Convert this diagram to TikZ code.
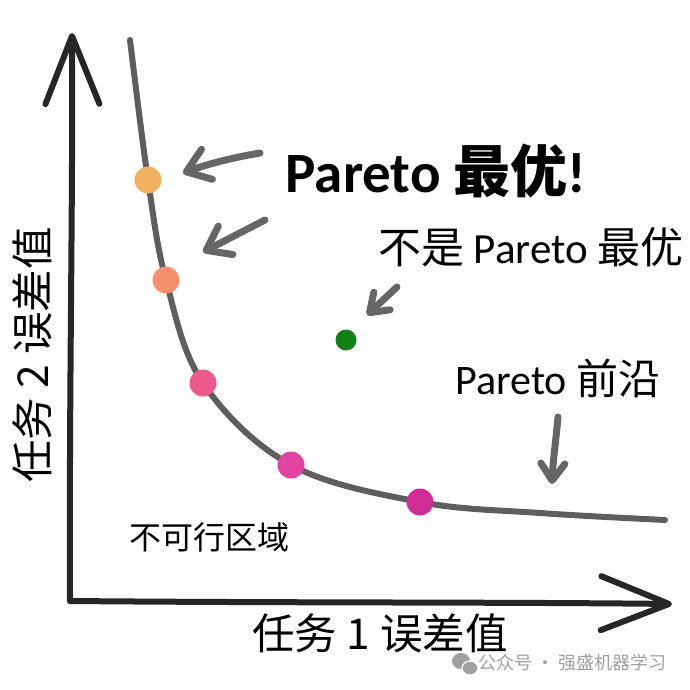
\documentclass[tikz,border=0pt]{standalone}
\usepackage{fontspec}
\setmainfont{Carlito}
\newfontfamily\cjk{Noto Sans CJK SC}
\usetikzlibrary{arrows.meta, positioning}
\definecolor{axisink}{HTML}{262626}
\definecolor{frontgray}{HTML}{5E5E5E}
\definecolor{arrowgray}{HTML}{666666}
\definecolor{optA}{HTML}{F0B060}
\definecolor{optB}{HTML}{F4906C}
\definecolor{optC}{HTML}{EC5A8C}
\definecolor{optD}{HTML}{E043A0}
\definecolor{optE}{HTML}{D02C98}
\definecolor{notopt}{HTML}{128012}
\definecolor{markgray}{HTML}{A0A0A0}

\begin{document}
\begin{tikzpicture}[x=1pt, y=-1pt,
    axis/.style={draw=axisink, line width=6pt, line cap=round,
      -{Straight Barb[length=68pt, width=54pt, round]}},
    pointer/.style={draw=arrowgray, line width=7pt, line cap=round,
      -{Straight Barb[length=22pt, width=32pt, round]}},
    smallpointer/.style={pointer, -{Straight Barb[length=17pt, width=24pt, round]}},
    dot/.style={circle, inner sep=0pt, minimum size=27pt},
    label/.style={inner sep=0pt, text=black}]
  \useasboundingbox (0,0) rectangle (690,690);

  % axes
  \coordinate (origin) at (70,601);
  \coordinate (ytop) at (72,33);
  \coordinate (xend) at (672,604);
  \draw[axis] (origin) .. controls (69,400) and (73,200) .. (ytop);
  \draw[axis] (origin) .. controls (300,603) and (500,602) .. (xend);

  % pareto front
  \coordinate (f0) at (130,40);
  \coordinate (p1) at (148,180);
  \coordinate (p2) at (166,280);
  \coordinate (p3) at (203,383);
  \coordinate (p4) at (291,465);
  \coordinate (p5) at (420,502);
  \coordinate (f1) at (665,520);
  \draw[frontgray, line width=6pt, line cap=round]
    plot[smooth, tension=0.6] coordinates {(f0) (p1) (p2) (p3) (p4) (p5) (540,513) (f1)};

  \node[dot, fill=optA] (d1) at (p1) {};
  \node[dot, fill=optB] (d2) at (p2) {};
  \node[dot, fill=optC] (d3) at (p3) {};
  \node[dot, fill=optD] (d4) at (p4) {};
  \node[dot, fill=optE] (d5) at (p5) {};
  \node[dot, fill=notopt, minimum size=21pt] (d6) at (346,340) {};

  % labels
  \node[label, font=\fontsize{57}{60}\selectfont\bfseries] (best) at (436,171)
    {Pareto {\cjk\bfseries 最优}!};
  \node[label, font=\fontsize{43}{46}\selectfont] (notbest) at (531,247)
    {{\cjk 不是} Pareto {\cjk 最优}};
  \node[label, font=\fontsize{42}{45}\selectfont] (front) at (558,378)
    {Pareto {\cjk 前沿}};
  \node[label, font=\cjk\fontsize{32}{34}\selectfont] (infeasible) at (209,537)
    {不可行区域};
  \node[label, font=\cjk\fontsize{42.5}{45}\selectfont] (xlab) at (380,633)
    {任务 1 误差值};
  \node[label, font=\cjk\fontsize{42.5}{45}\selectfont, rotate=90] (ylab) at (32,355)
    {任务 2 误差值};

  % pointers
  \coordinate (a1s) at (260,153);
  \coordinate (a1e) at (183,173);
  \coordinate (a2s) at (265,220);
  \coordinate (a2e) at (203,252);
  \coordinate (a3s) at (397,287);
  \coordinate (a3e) at (367,315);
  \coordinate (a4s) at (558,417);
  \coordinate (a4e) at (552,484);
  \draw[pointer] (a1s) .. controls (230,158) and (205,165) .. (a1e);
  \draw[pointer] (a2s) -- (a2e);
  \draw[smallpointer] (a3s) -- (a3e);
  \draw[smallpointer] (a4s) .. controls (556,440) and (553,460) .. (a4e);

  % watermark
  \fill[markgray] (461,661) ellipse (9pt and 8pt);
  \fill[markgray, draw=white, line width=1.2pt] (470,668) ellipse (8pt and 7pt);
  \node[label, text=markgray, font=\cjk\fontsize{18}{20}\selectfont, anchor=west] (mark) at (478,663)
    {公众号 · 强盛机器学习};
\end{tikzpicture}
\end{document}
